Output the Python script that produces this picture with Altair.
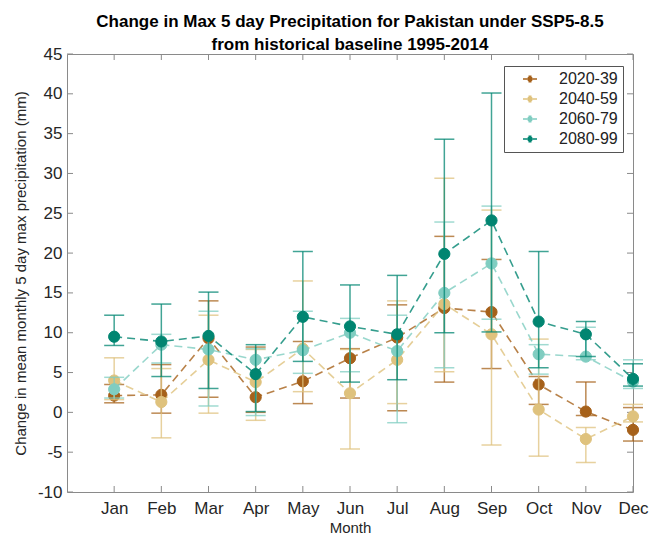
import altair as alt
import pandas as pd

months = ["Jan", "Feb", "Mar", "Apr", "May", "Jun", "Jul", "Aug", "Sep", "Oct", "Nov", "Dec"]
series = ["2020-39", "2040-59", "2060-79", "2080-99"]
colors = ["#A6611A", "#DFC27D", "#80CDC1", "#018571"]

mean_2020 = [2.1, 2.2, 9.3, 1.9, 3.9, 6.8, 9.4, 13.1, 12.6, 3.5, 0.1, -2.2]
lo_2020 = [1.2, -0.1, 1.9, 0.0, 1.1, 1.8, 0.2, 3.8, 5.5, 1.0, -0.4, -3.6]
hi_2020 = [3.5, 6.0, 14.0, 8.2, 8.9, 8.0, 13.5, 22.1, 19.2, 4.5, 3.8, 0.6]

mean_2040 = [4.0, 1.3, 6.6, 3.8, 8.0, 2.4, 6.6, 13.6, 9.8, 0.35, -3.35, -0.5]
lo_2040 = [1.6, -3.2, -0.1, -1.0, 2.6, -4.6, 1.1, 5.1, -4.1, -5.5, -6.3, -1.2]
hi_2040 = [6.85, 5.5, 12.2, 7.9, 16.5, 7.9, 14.0, 29.4, 25.4, 9.2, -1.9, 1.0]

mean_2060 = [2.9, 8.5, 7.9, 6.6, 7.8, 10.0, 7.7, 15.0, 18.7, 7.3, 7.0, 3.85]
lo_2060 = [1.8, 6.2, 0.8, -0.4, 4.9, 5.1, -1.3, 5.6, 11.7, 4.8, 6.6, 3.0]
hi_2060 = [4.4, 9.8, 12.7, 8.0, 12.7, 11.8, 12.2, 23.9, 25.9, 8.5, 10.7, 6.6]

mean_2080 = [9.5, 8.9, 9.6, 4.8, 12.0, 10.8, 9.8, 19.9, 24.1, 11.4, 9.8, 4.2]
lo_2080 = [8.4, 4.5, 3.0, 0.1, 6.4, 3.8, 4.1, 10.0, 10.1, 5.6, 7.0, 3.3]
hi_2080 = [12.2, 13.6, 15.1, 8.5, 20.2, 16.0, 17.2, 34.3, 40.1, 20.2, 11.4, 6.1]

y_ticks = list(range(-10, 50, 5))
x_ticks = list(range(1, 13))

means = [mean_2020, mean_2040, mean_2060, mean_2080]
los = [lo_2020, lo_2040, lo_2060, lo_2080]
his = [hi_2020, hi_2040, hi_2060, hi_2080]

rows = []
for s, mv, lv, hv in zip(series, means, los, his):
    for i in range(12):
        rows.append({"m": i + 1, "series": s, "mean": mv[i], "lo": lv[i], "hi": hv[i]})
df = pd.DataFrame(rows)

W, H = 566, 438
FONT = "Liberation Sans"
AX = "#8a8a8a"
TXT = "#262626"

xs = alt.Scale(domain=[0, 12], nice=False, zero=False)
ys = alt.Scale(domain=[-10, 45], nice=False, zero=False)
month_expr = "[" + ",".join("'" + m + "'" for m in [""] + months) + "][datum.value]"

x_axis = alt.Axis(values=x_ticks, labelExpr=month_expr, title="Month", grid=False,
                  tickSize=0, domain=False, labelFontSize=17, labelFont=FONT,
                  labelColor=TXT, labelPadding=8, labelFlush=False, labelOverlap=False,
                  titleFont=FONT, titleFontSize=15, titleFontWeight="normal",
                  titleColor=TXT, titlePadding=4)
y_axis = alt.Axis(values=y_ticks, labelExpr="'' + datum.value",
                  title="Change in mean monthly 5 day max precipitation (mm)",
                  grid=False, tickSize=0, domain=False, labelFontSize=17, labelFont=FONT,
                  labelColor=TXT, labelPadding=5, labelFlush=False, labelOverlap=False,
                  titleFont=FONT, titleFontSize=15, titleFontWeight="normal",
                  titleColor=TXT, titlePadding=9)

sym_path = ("M-1.4,0H-0.55M0.55,0H1.4M0,-0.55V0.55M-0.3,-0.55H0.3M-0.3,0.55H0.3"
            "M-0.38,0A0.38,0.38 0 1,0 0.38,0A0.38,0.38 0 1,0 -0.38,0Z")
legend = alt.Legend(title=None, orient="none", legendX=437, legendY=12, fillColor="white",
                    strokeColor="#555", padding=5, symbolType=sym_path, symbolSize=100,
                    symbolStrokeWidth=1.5, symbolOffset=13, labelOffset=21, labelFontSize=16,
                    labelFont=FONT, labelColor="#222", rowPadding=4, symbolOpacity=1)
sc = alt.Scale(domain=series, range=colors)
fill_enc = alt.Fill("series:N", scale=sc, legend=legend)
stroke_enc = alt.Stroke("series:N", scale=sc, legend=legend)

yt = pd.DataFrame({"v": y_ticks})
xt = pd.DataFrame({"v": x_ticks})
TL = 6
left_t = alt.Chart(yt).mark_rule(color=AX, strokeWidth=1).encode(
    y=alt.Y("v:Q", scale=ys, axis=y_axis), x=alt.value(0), x2=alt.value(TL))
right_t = alt.Chart(yt).mark_rule(color=AX, strokeWidth=1).encode(
    y=alt.Y("v:Q", scale=ys, axis=y_axis), x=alt.value(W - TL), x2=alt.value(W))
bot_t = alt.Chart(xt).mark_rule(color=AX, strokeWidth=1).encode(
    x=alt.X("v:Q", scale=xs, axis=x_axis), y=alt.value(H - TL), y2=alt.value(H))
top_t = alt.Chart(xt).mark_rule(color=AX, strokeWidth=1).encode(
    x=alt.X("v:Q", scale=xs, axis=x_axis), y=alt.value(0), y2=alt.value(TL))

layers = [left_t, right_t, bot_t, top_t]
X = alt.X("m:Q", scale=xs, axis=x_axis)
for s, c in zip(series, colors):
    base = alt.Chart(df).transform_filter(alt.datum.series == s)
    line = base.mark_line(color=c, strokeWidth=1.6, strokeDash=[8, 5], opacity=0.8).encode(
        x=X, y=alt.Y("mean:Q", scale=ys, axis=y_axis))
    bar = base.mark_rule(color=c, strokeWidth=1.5, opacity=0.75).encode(
        x=X, y=alt.Y("lo:Q", scale=ys, axis=y_axis), y2="hi:Q")
    cap_lo = base.mark_tick(color=c, orient="horizontal", size=20, thickness=1.5, opacity=0.75).encode(
        x=X, y=alt.Y("lo:Q", scale=ys, axis=y_axis))
    cap_hi = base.mark_tick(color=c, orient="horizontal", size=20, thickness=1.5, opacity=0.75).encode(
        x=X, y=alt.Y("hi:Q", scale=ys, axis=y_axis))
    pts = base.mark_point(filled=True, size=125, strokeWidth=1, opacity=1).encode(
        x=X, y=alt.Y("mean:Q", scale=ys, axis=y_axis), fill=fill_enc, stroke=stroke_enc)
    layers += [line, bar, cap_lo, cap_hi, pts]

chart = alt.layer(*layers).properties(
    width=W, height=H,
    title=alt.TitleParams(
        ["Change in Max 5 day Precipitation for Pakistan under SSP5-8.5",
         "from historical baseline 1995-2014"],
        fontSize=17, fontWeight="bold", font=FONT, color="black", anchor="middle",
        frame="group", offset=-9, lineHeight=23),
    autosize=alt.AutoSizeParams(type="none"),
    padding={"left": 59, "top": 46, "right": 25, "bottom": 43},
).configure_view(stroke=AX, strokeWidth=1)

chart.save("out.html", embed_options={"renderer": "svg", "actions": False})
